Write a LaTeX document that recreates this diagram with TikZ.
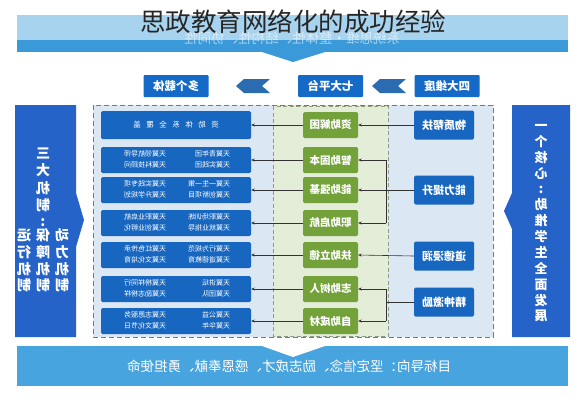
\documentclass[tikz,border=0pt]{standalone}
\usepackage{fontspec}
\usepackage{graphicx}
\setmainfont{Noto Sans CJK SC}
\usetikzlibrary{arrows.meta}
\definecolor{cblue}{HTML}{1766BF}
\definecolor{sblue}{HTML}{2563C9}
\definecolor{hblue}{HTML}{1569C7}
\definecolor{ggreen}{HTML}{73A23A}
\definecolor{mfill}{HTML}{DCE7F4}
\definecolor{mline}{HTML}{3F86D0}
\definecolor{gfill}{HTML}{E4EDD8}
\definecolor{gline}{HTML}{8E9E7E}
\definecolor{chev}{HTML}{2B6CB0}
\definecolor{bandlight}{HTML}{A7D3EF}
\definecolor{banddark}{HTML}{3A9AD9}
\definecolor{bandbot}{HTML}{48A4DE}
\definecolor{lineclr}{HTML}{333333}
\newcommand\mirtxt[1]{\reflectbox{#1}}
\newcommand\gapx{\hspace{5.5pt}}
\newcommand\twocol[4]{\mirtxt{\begin{tabular}{@{}p{44pt}@{\hspace{20pt}}p{44pt}@{}}#1&#3\\#2&#4\end{tabular}}}
\newcommand\chevronat[2]{\fill[chev] ({#1-17},#2) -- ({#1-9},{#2-7}) -- ({#1+17},{#2-7}) -- ({#1+9},#2) -- ({#1+17},{#2+7}) -- ({#1-9},{#2+7}) -- cycle;}
\begin{document}
\begin{tikzpicture}[x=1pt,y=-1pt,
 cbox/.style={fill=cblue,text=white,minimum width=150pt,minimum height=26pt,inner sep=0pt,rounded corners=1.5pt,font=\fontsize{7}{10.5}\selectfont},
 gbox/.style={fill=ggreen,text=white,minimum width=55pt,minimum height=26pt,inner sep=0pt,rounded corners=1.5pt,font=\fontsize{10.5}{12}\selectfont\bfseries},
 rbox/.style={fill=cblue,text=white,minimum width=60pt,minimum height=29pt,inner sep=0pt,rounded corners=1.5pt,font=\fontsize{11}{13}\selectfont\bfseries},
 hbox/.style={fill=hblue,text=white,minimum width=65pt,minimum height=22pt,inner sep=0pt,rounded corners=1pt,font=\fontsize{11.5}{13}\selectfont\bfseries},
 conn/.style={draw=lineclr,line width=0.6pt,-{Stealth[length=3.5pt,width=3pt]}},
 plainline/.style={draw=lineclr,line width=0.6pt},
 vtext/.style={text=white,inner sep=0pt}]
\useasboundingbox (0,0) rectangle (585,400);
\fill[white] (0,0) rectangle (585,400);
% top band
\fill[bandlight] (17,15) rectangle (568,40);
\fill[banddark] (17,40) rectangle (568,52);
\fill[banddark] (262,52) -- (293,62) -- (325,52) -- cycle;
\node[text=white,opacity=0.55,inner sep=0pt,font=\fontsize{13.5}{15}\selectfont] (faded) at (292,38) {\mirtxt{系统思维·整体性、结构性、协同性}};
\node[text=black!85,inner sep=0pt,font=\fontsize{25.5}{28}\selectfont] (title) at (293,22) {思政教育网络化的成功经验};
% header row
\node[hbox] (h1) at (176,86) {\mirtxt{多个载体}};
\node[hbox] (h2) at (330.5,86) {\mirtxt{七大平台}};
\node[hbox] (h3) at (447,86) {\mirtxt{四大维度}};
\chevronat{253}{86}
\chevronat{389}{86}
% side boxes
\fill[sblue] (15,105) -- (76,105) -- (76,193) -- (84,220) -- (76,247) -- (76,337) -- (15,337) -- cycle;
\fill[sblue] (512,105) -- (570,105) -- (570,337) -- (512,337) -- (512,229) -- (504,211) -- (512,193) -- cycle;
\node[vtext,font=\fontsize{14}{17.3}\selectfont\bfseries] (lt1) at (43,181) {\mirtxt{\begin{tabular}{@{}c@{}}三\\大\\机\\制\end{tabular}}};
\node[vtext,font=\fontsize{14}{16}\selectfont\bfseries] (lt2) at (43,223) {\mirtxt{:}};
\node[vtext,font=\fontsize{14}{16.3}\selectfont\bfseries] (lt3) at (43,262) {\mirtxt{\begin{tabular}{@{}c@{\hspace{5pt}}c@{\hspace{5pt}}c@{}}动&保&运\\力&障&行\\机&机&机\\制&制&制\end{tabular}}};
\node[vtext,font=\fontsize{13}{15.75}\selectfont\bfseries] (rt) at (541,222.5) {\mirtxt{\begin{tabular}{@{}c@{}}一\\个\\核\\心\\:\\助\\推\\学\\生\\全\\面\\发\\展\end{tabular}}};
% frames
\draw[mline,fill=mfill,dash pattern=on 5pt off 3pt,line width=1pt] (93,105) rectangle (493,337);
\draw[gline,fill=gfill,dash pattern=on 4pt off 2.5pt,line width=0.9pt] (273,106) rectangle (388,336);
% carrier boxes
\node[cbox,minimum height=28pt,font=\fontsize{7.5}{9}\selectfont] (c1) at (176,125) {\mirtxt{资\gapx 助\gapx 体\gapx 系\gapx 全\gapx 覆\gapx 盖}};
\node[cbox] (c2) at (176,160) {\twocol{天翼青年团}{天翼实践团}{天翼领航导师}{天翼科技顾问}};
\node[cbox] (c3) at (176,190) {\twocol{天翼一生一策}{天翼创新项目}{天翼实践专项}{天翼升学规划}};
\node[cbox] (c4) at (176,223) {\twocol{天翼职场训练}{天翼就业指导}{天翼职业启航}{天翼创业孵化}};
\node[cbox] (c5) at (176,255) {\twocol{天翼行为规范}{天翼道德教育}{天翼红色传承}{天翼文化培育}};
\node[cbox] (c6) at (176,289) {\twocol{天翼讲坛}{天翼团队}{天翼榜样同行}{天翼励志榜样}};
\node[cbox] (c7) at (176,321) {\twocol{天翼公益}{天翼华年}{天翼志愿服务}{天翼文化节日}};
% platform boxes
\node[gbox] (g1) at (330.5,125) {\mirtxt{资助解困}};
\node[gbox] (g2) at (330.5,160) {\mirtxt{智助固本}};
\node[gbox] (g3) at (330.5,190) {\mirtxt{能助强基}};
\node[gbox] (g4) at (330.5,223) {\mirtxt{职助启航}};
\node[gbox] (g5) at (330.5,255) {\mirtxt{扶助立德}};
\node[gbox] (g6) at (330.5,289) {\mirtxt{志助树人}};
\node[gbox] (g7) at (330.5,321) {\mirtxt{自助成材}};
% dimension boxes
\node[rbox] (d1) at (444,125) {\mirtxt{物质帮扶}};
\node[rbox] (d2) at (444,190) {\mirtxt{能力提升}};
\node[rbox] (d3) at (444,256) {\mirtxt{道德浸润}};
\node[rbox] (d4) at (444,302) {\mirtxt{精神激励}};
% connectors platform -> carriers
\foreach \i in {1,...,7} {\draw[conn] (g\i.west) -- (c\i.east);}
% dimension -> platform
\draw[conn] (d1.west) -- (g1.east);
\draw[conn] (d3.west) -- (g5.east);
\coordinate (k2) at (386,160);
\coordinate (k4) at (386,223);
\coordinate (k6) at (386,289);
\coordinate (k7) at (386,321);
\draw[plainline] (k2) -- (k4);
\draw[conn] (d2.west) -- (g3.east);
\draw[conn] (k2) -- (g2.east);
\draw[conn] (k4) -- (g4.east);
\draw[plainline] (k6) -- (k7);
\draw[plainline] (d4.west) -- (d4.west -| k6);
\draw[conn] (k6) -- (g6.east);
\draw[conn] (k7) -- (g7.east);
% bottom band
\fill[bandbot] (17,346) rectangle (568,386);
\fill[white] (262,346) -- (293,357) -- (325,346) -- cycle;
\node[text=white,inner sep=0pt,font=\fontsize{13.5}{15}\selectfont] (goal) at (289,366) {\mirtxt{目标导向：坚定信念、励志成才、感恩奉献、勇担使命}};
\end{tikzpicture}
\end{document}
